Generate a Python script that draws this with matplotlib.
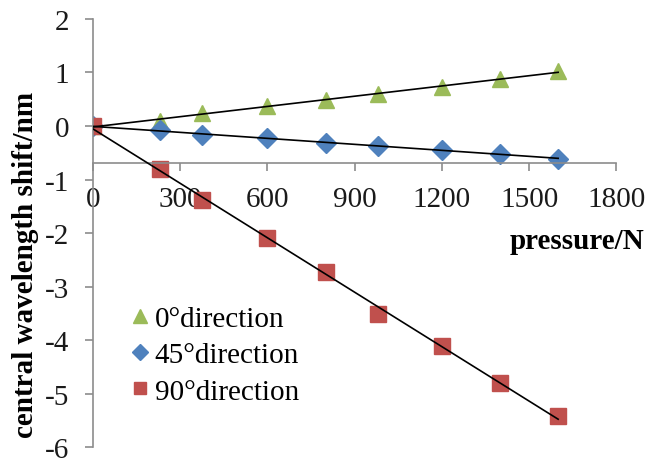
import numpy as np
import matplotlib
matplotlib.use("Agg")
from matplotlib import pyplot as plt

pressure = [0, 230, 375, 600, 800, 980, 1200, 1400, 1600]
shift_0 = [0, 0.10, 0.25, 0.37, 0.48, 0.60, 0.73, 0.87, 1.03]
shift_45 = [0, -0.08, -0.17, -0.23, -0.31, -0.37, -0.45, -0.52, -0.61]
shift_90 = [0, -0.80, -1.39, -2.10, -2.72, -3.51, -4.11, -4.80, -5.41]

labels = ["0°direction", "45°direction", "90°direction"]
colors = ["#9BBB59", "#4F81BD", "#C0504D"]
markers = ["^", "D", "s"]
sizes = [12, 10, 11.5]

plt.rcParams["font.family"] = ["Liberation Serif", "DejaVu Serif"]
plt.rcParams["axes.unicode_minus"] = False

fig = plt.figure(figsize=(6.46, 4.64), dpi=100)
ax = fig.add_axes([0.144, 0.034, 0.810, 0.923])

x = np.array(pressure, dtype=float)
for ys, lab, c, m, s in zip([shift_0, shift_45, shift_90], labels, colors, markers, sizes):
    ys = np.array(ys)
    ax.plot(x, ys, linestyle="none", marker=m, markersize=s, color=c,
            markeredgecolor=c, label=lab, zorder=2)
    k, b = np.polyfit(x, ys, 1)
    xx = np.array([0, x.max()])
    ax.plot(xx, k * xx + b, color="black", lw=1.2, zorder=3)

ax.set_xlim(0, 1800)
ax.set_ylim(-6, 2)
ax.set_xticks(np.arange(0, 1801, 300))
ax.set_yticks(np.arange(-6, 3, 1))

ax.spines["top"].set_visible(False)
ax.spines["right"].set_visible(False)
ax.spines["bottom"].set_position(("data", -0.7))
for sp in ("left", "bottom"):
    ax.spines[sp].set_color("#8c8c8c")
    ax.spines[sp].set_linewidth(1.2)
ax.tick_params(axis="both", direction="out", length=6, width=1.2,
               color="#8c8c8c", labelsize=21, labelcolor="#1a1a1a")
ax.tick_params(axis="x", pad=10)
ax.tick_params(axis="y", pad=11)

ax.set_ylabel("central wavelength shift/nm", fontsize=21, fontweight="bold")
ax.yaxis.set_label_coords(-0.103, 0.428)
fig.text(0.998, 1 - 242 / 464, "pressure/N", fontsize=21, fontweight="bold",
         ha="right", va="center")

ax.legend(loc="upper left", bbox_to_anchor=(0.181, 0.371),
          bbox_transform=fig.transFigure, frameon=False, fontsize=21,
          handlelength=0.6, handletextpad=0.2, labelspacing=0.34,
          borderpad=0, markerscale=0.8)

fig.savefig("out.png", dpi=100)
